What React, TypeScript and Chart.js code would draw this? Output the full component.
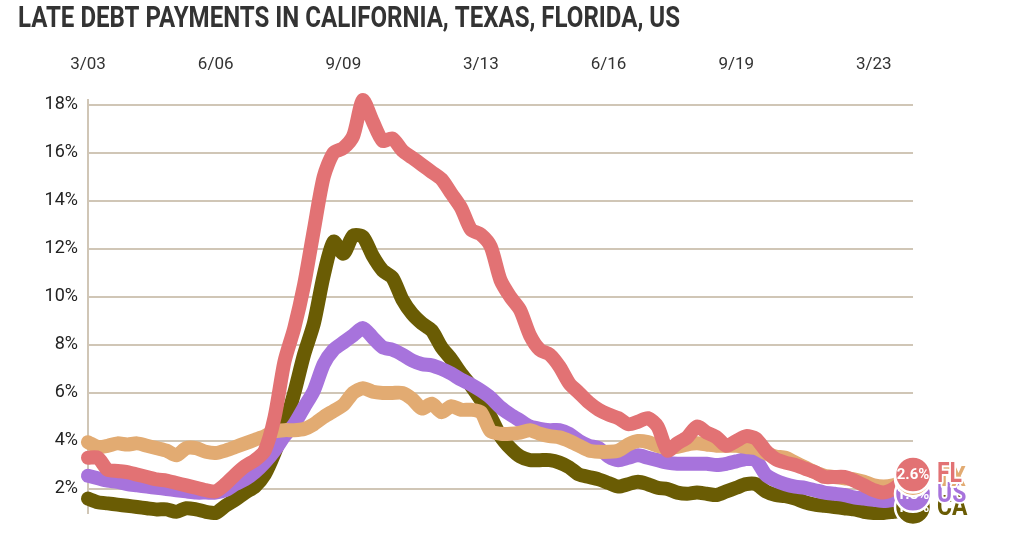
import React, { useEffect, useRef } from "react";
import { Chart, registerables } from "chart.js";

Chart.register(...registerables);

const TITLE = "LATE DEBT PAYMENTS IN CALIFORNIA, TEXAS, FLORIDA, US";

// Quarterly categories, 3/03 .. 3/24
const years = [2003, 2004, 2005, 2006, 2007, 2008, 2009, 2010, 2011, 2012, 2013, 2014, 2015, 2016, 2017, 2018, 2019, 2020, 2021, 2022, 2023, 2024];
const months = [3, 6, 9, 12];
const quarters: string[] = [];
years.forEach((y) =>
  months.forEach((m) => {
    if (y === 2024 && m > 3) return;
    quarters.push(`${m}/${String(y % 100).padStart(2, "0")}`);
  })
);

const shownTicks = ["3/03", "6/06", "9/09", "3/13", "6/16", "9/19", "3/23"];
const yTicks = [2, 4, 6, 8, 10, 12, 14, 16, 18];

const seriesNames = ["FL", "TX", "US", "CA"];
const seriesColors = ["#e27274", "#e2ab72", "#a773dc", "#6a5c04"];

const florida = [
  3.3, 3.3, 2.8, 2.75, 2.7, 2.6, 2.5, 2.4, 2.35, 2.25,
  2.15, 2.05, 1.95, 1.9, 2.2, 2.6, 2.95, 3.2, 3.6, 5.0,
  7.3, 8.7, 10.5, 12.8, 15.0, 16.0, 16.2, 16.7, 18.2, 17.3,
  16.5, 16.6, 16.1, 15.8, 15.5, 15.2, 14.9, 14.3, 13.7, 12.8,
  12.6, 12.1, 10.7, 10.0, 9.45, 8.4, 7.8, 7.6, 7.1, 6.4,
  6.0, 5.6, 5.3, 5.1, 4.95, 4.7, 4.8, 4.95, 4.6, 3.6,
  3.9, 4.15, 4.6, 4.35, 4.15, 3.8, 4.0, 4.2, 4.1, 3.6,
  3.25, 3.1, 3.0, 2.85, 2.7, 2.5, 2.5, 2.5, 2.35, 2.15,
  1.95, 1.85, 2.0, 2.3, 2.6,
];

const texas = [
  3.95, 3.75, 3.8, 3.9, 3.85, 3.9, 3.8, 3.7, 3.6, 3.4,
  3.7, 3.7, 3.55, 3.5, 3.6, 3.75, 3.9, 4.05, 4.2, 4.4,
  4.45, 4.45, 4.5, 4.7, 5.0, 5.25, 5.5, 6.0, 6.2, 6.05,
  6.0, 6.0, 6.0, 5.75, 5.35, 5.55, 5.2, 5.45, 5.3, 5.3,
  5.2, 4.4, 4.3, 4.3, 4.35, 4.45, 4.3, 4.2, 4.15, 4.0,
  3.8, 3.6, 3.55, 3.55, 3.6, 3.85, 4.0, 3.95, 3.8, 3.7,
  3.75, 3.85, 3.9, 3.85, 3.8, 3.8, 3.8, 3.75, 3.7, 3.5,
  3.35, 3.3, 3.1, 2.9, 2.7, 2.55, 2.5, 2.45, 2.4, 2.3,
  2.15, 2.1, 2.15, 2.3, 2.45,
];

const unitedStates = [
  2.55, 2.45, 2.35, 2.3, 2.2, 2.15, 2.1, 2.05, 2.0, 1.95,
  1.9, 1.85, 1.85, 1.85, 1.95, 2.2, 2.4, 2.7, 3.1, 3.6,
  4.2, 4.7, 5.4, 6.1, 7.2, 7.8, 8.1, 8.4, 8.7, 8.3,
  7.9, 7.8, 7.6, 7.35, 7.2, 7.15, 7.0, 6.8, 6.55, 6.35,
  6.1, 5.8, 5.4, 5.1, 4.85, 4.6, 4.5, 4.45, 4.45, 4.3,
  4.0, 3.8, 3.7, 3.35, 3.2, 3.3, 3.4, 3.3, 3.2, 3.1,
  3.05, 3.05, 3.05, 3.05, 3.0, 3.05, 3.15, 3.25, 3.2, 2.6,
  2.35, 2.2, 2.1, 2.05, 1.95, 1.85, 1.8, 1.75, 1.65, 1.6,
  1.55, 1.5, 1.55, 1.65, 1.8,
];

const california = [
  1.6, 1.45, 1.4, 1.35, 1.3, 1.25, 1.2, 1.15, 1.15, 1.05,
  1.2, 1.15, 1.05, 1.0, 1.3, 1.55, 1.85, 2.1, 2.6, 3.5,
  4.6, 6.0, 7.6, 8.9, 10.9, 12.3, 11.8, 12.55, 12.5, 11.7,
  11.1, 10.8, 9.9, 9.3, 8.9, 8.6, 7.9, 7.4, 6.8, 6.3,
  5.7, 5.0, 4.2, 3.7, 3.35, 3.2, 3.2, 3.2, 3.1, 2.9,
  2.6, 2.5, 2.4, 2.25, 2.1, 2.2, 2.3, 2.2, 2.05, 2.0,
  1.85, 1.8, 1.85, 1.8, 1.75, 1.9, 2.05, 2.2, 2.2, 1.9,
  1.75, 1.7, 1.6, 1.45, 1.35, 1.3, 1.25, 1.2, 1.15, 1.05,
  1.0, 1.0, 1.05, 1.1, 1.25,
];

const seriesData = [florida, texas, unitedStates, california];

const FONT = "Roboto, 'Noto Sans', sans-serif";

const titlePlugin = {
  id: "titlePlugin",
  beforeDraw(chart: any) {
    const ctx = chart.ctx as CanvasRenderingContext2D;
    ctx.save();
    ctx.fillStyle = "#fff";
    ctx.fillRect(0, 0, chart.width, chart.height);
    ctx.font = `bold 29px ${FONT}`;
    const w = ctx.measureText(TITLE).width;
    ctx.translate(18, 27);
    ctx.scale(662 / w, 1);
    ctx.fillStyle = "#333333";
    ctx.textBaseline = "alphabetic";
    ctx.textAlign = "left";
    ctx.fillText(TITLE, 0, 0);
    ctx.restore();
  },
};

const endMarkers = {
  id: "endMarkers",
  afterDatasetsDraw(chart: any) {
    const ctx = chart.ctx as CanvasRenderingContext2D;
    const n = chart.data.datasets.length;
    for (let di = n - 1; di >= 0; di--) {
      const meta = chart.getDatasetMeta(di);
      const pt = meta.data[meta.data.length - 1];
      const ds = chart.data.datasets[di];
      const v = ds.data[ds.data.length - 1] as number;
      const color = ds.borderColor as string;
      ctx.save();
      ctx.beginPath();
      ctx.arc(pt.x, pt.y, 18, 0, Math.PI * 2);
      ctx.fillStyle = color;
      ctx.fill();
      ctx.lineWidth = 2.5;
      ctx.strokeStyle = "#ffffff";
      ctx.stroke();
      ctx.font = `bold 15px ${FONT}`;
      ctx.textAlign = "center";
      ctx.textBaseline = "middle";
      ctx.fillStyle = "#ffffff";
      ctx.fillText(`${v.toFixed(1)}%`, pt.x, pt.y + 1);
      ctx.font = `bold 27px ${FONT}`;
      ctx.textAlign = "left";
      ctx.lineJoin = "round";
      ctx.translate(pt.x + 24, pt.y + 1);
      ctx.scale(0.85, 1);
      ctx.lineWidth = 4;
      ctx.strokeStyle = "#ffffff";
      ctx.strokeText(seriesNames[di], 0, 0);
      ctx.fillStyle = color;
      ctx.fillText(seriesNames[di], 0, 0);
      ctx.restore();
    }
  },
};

export default function App() {
  const ref = useRef<HTMLCanvasElement | null>(null);

  useEffect(() => {
    document.body.style.margin = "0";
    const canvas = ref.current;
    if (!canvas) return;
    const chart = new Chart(canvas, {
      type: "line",
      data: {
        labels: quarters,
        datasets: seriesNames.map((name, i) => ({
          label: name,
          data: seriesData[i],
          borderColor: seriesColors[i],
          backgroundColor: seriesColors[i],
          borderWidth: 14,
          borderCapStyle: "round" as const,
          borderJoinStyle: "round" as const,
          tension: 0.25,
          pointRadius: 0,
          pointHoverRadius: 0,
          fill: false,
          clip: false as any,
        })),
      },
      options: {
        responsive: false,
        animation: false,
        events: [],
        layout: { padding: { left: 0, right: 111, top: 0, bottom: 33 } },
        plugins: {
          legend: { display: false },
          tooltip: { enabled: false },
          title: { display: false },
        },
        scales: {
          x: {
            position: "top",
            grid: { display: false },
            border: { display: false },
            afterFit: (s: any) => {
              s.height = 100;
            },
            ticks: {
              autoSkip: false,
              maxRotation: 0,
              minRotation: 0,
              padding: 17,
              color: "#333333",
              font: { family: FONT, size: 17 },
              callback: (_v: any, idx: number) =>
                shownTicks.includes(quarters[idx]) ? quarters[idx] : "",
            },
          },
          y: {
            min: 1,
            max: 18.2,
            afterFit: (s: any) => {
              s.width = 88;
            },
            afterBuildTicks: (s: any) => {
              s.ticks = yTicks.map((v) => ({ value: v }));
            },
            grid: {
              color: "#d0c6b6",
              lineWidth: 2,
              drawTicks: false,
            },
            border: { display: true, color: "#d0c6b6", width: 2 },
            ticks: {
              padding: 10,
              color: "#222222",
              font: { family: FONT, size: 18 },
              callback: (v: any) => `${v}%`,
            },
          },
        },
      },
      plugins: [titlePlugin, endMarkers],
    });
    return () => chart.destroy();
  }, []);

  return (
    <div style={{ position: "fixed", left: 0, top: 0, width: 1024, height: 546, background: "#fff" }}>
      <canvas ref={ref} width={1024} height={546} style={{ display: "block" }} />
    </div>
  );
}
